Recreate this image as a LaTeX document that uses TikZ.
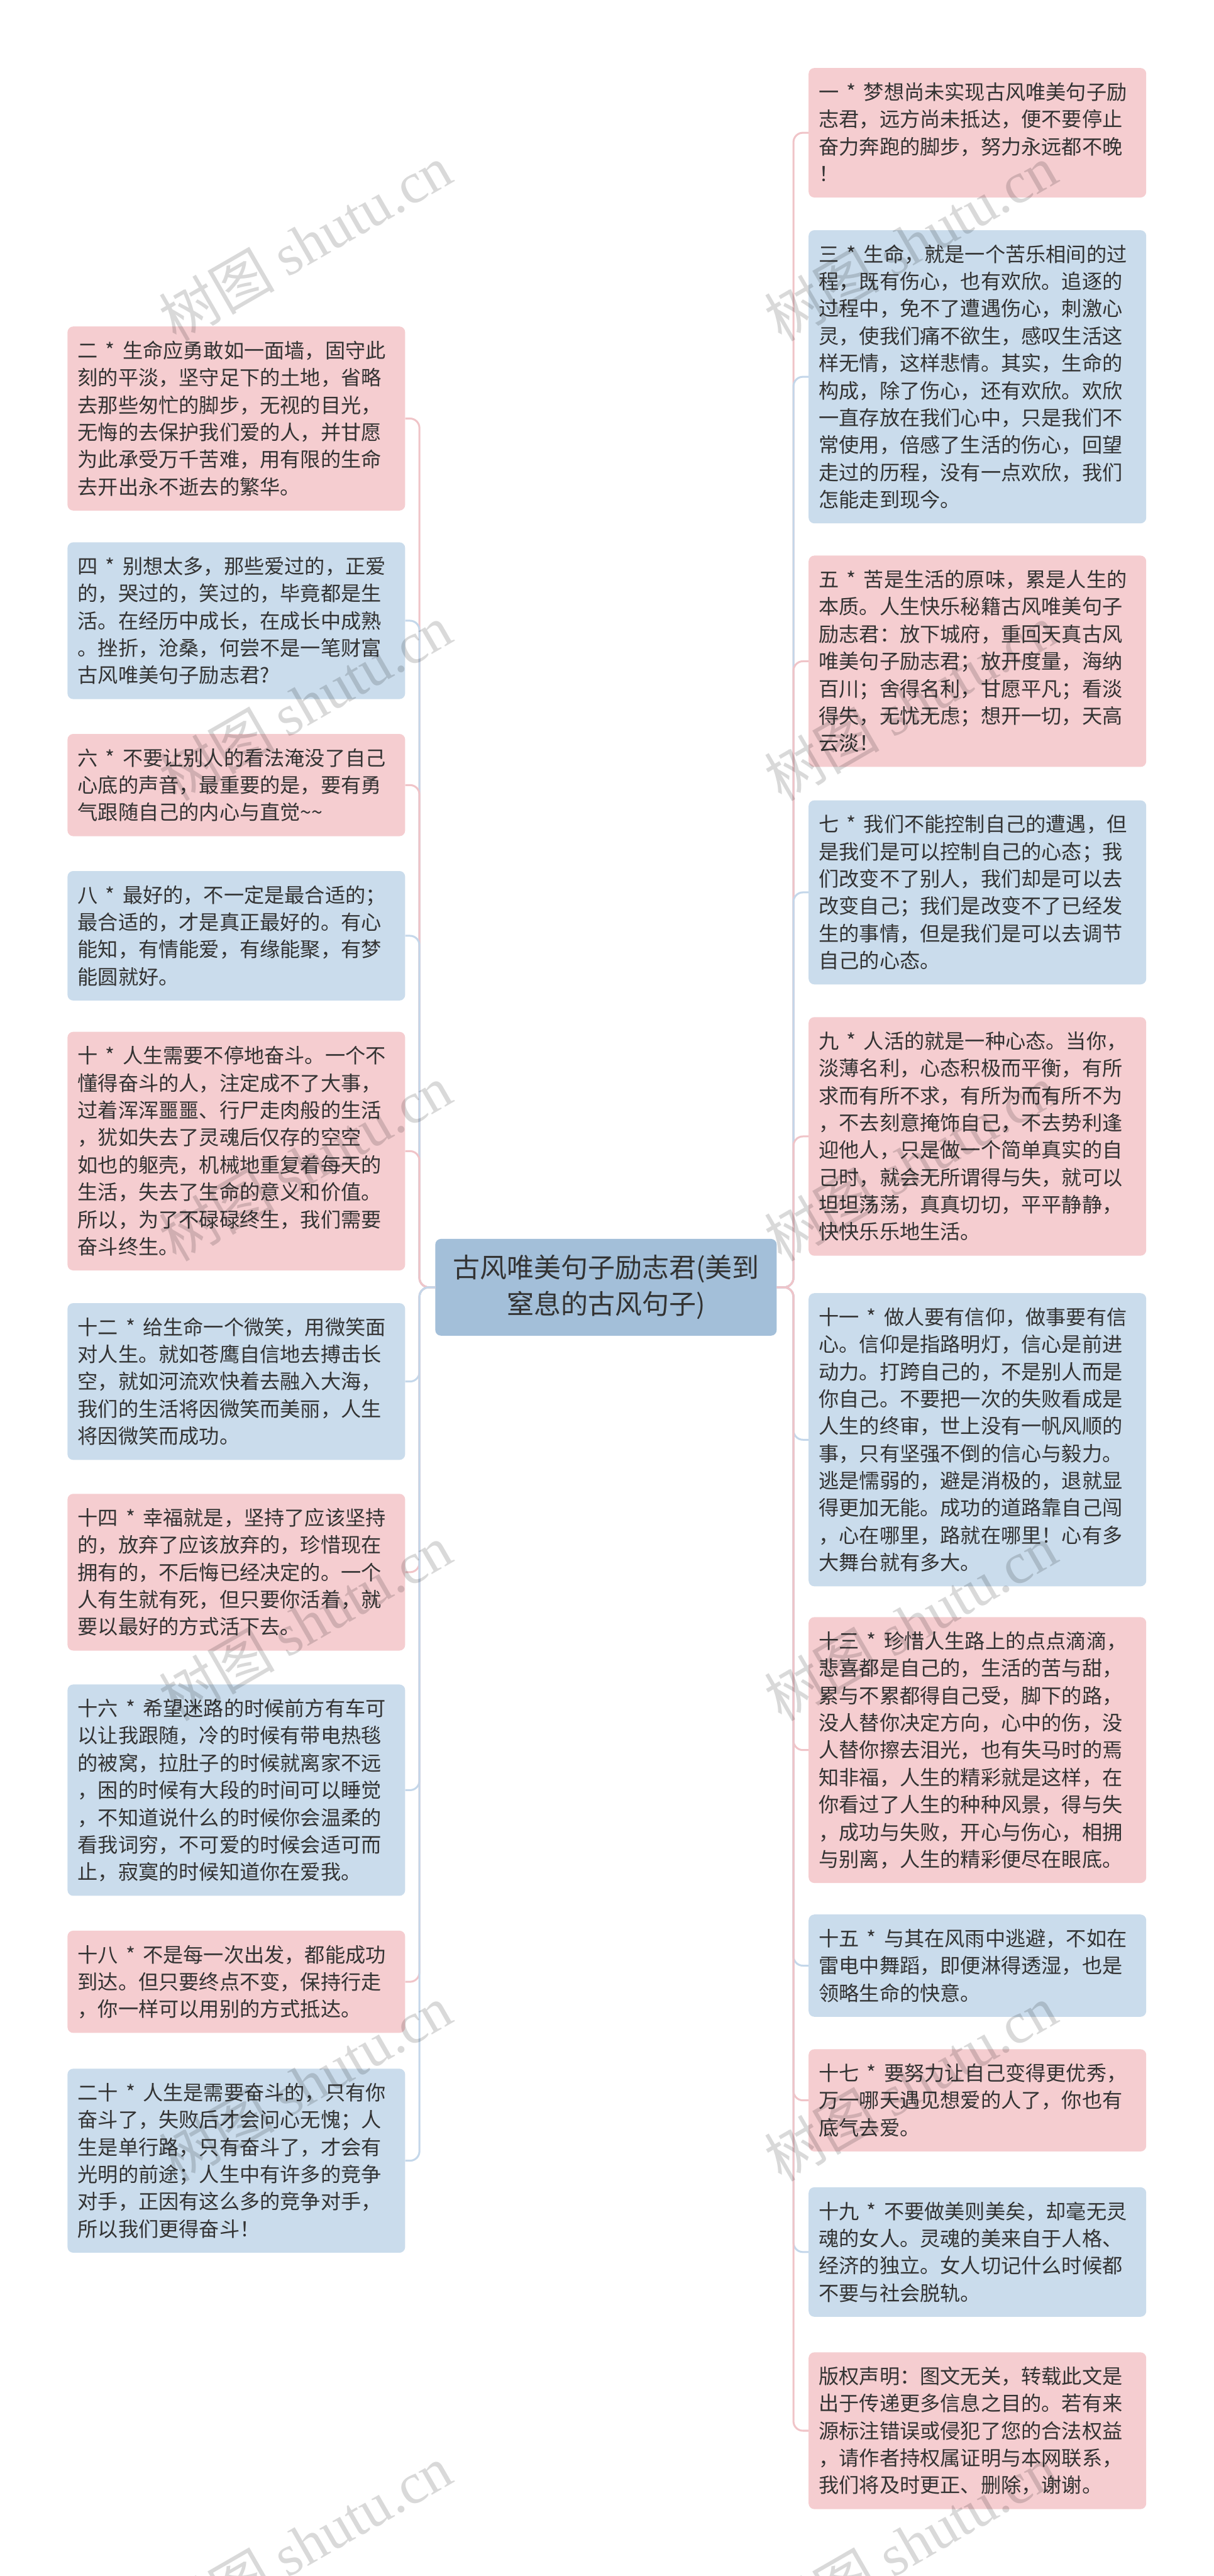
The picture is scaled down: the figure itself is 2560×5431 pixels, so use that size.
\documentclass[tikz,border=0pt]{standalone}
\usepackage{fontspec}
\setmainfont{Noto Sans CJK SC}
\newfontfamily\wmfont{Liberation Serif}
\definecolor{pinkfill}{HTML}{F5CDD0}
\definecolor{bluefill}{HTML}{CADCEC}
\definecolor{rootfill}{HTML}{A3BFD9}
\definecolor{pinkline}{HTML}{F0C4C8}
\definecolor{blueline}{HTML}{C4D7EA}
\definecolor{txt}{HTML}{333333}
\newcommand\sx{\makebox[1.22em]{*}}
\newcommand\mystrut{\rule[-6.26pt]{0pt}{28.75pt}}
\tikzset{
  leaf/.style={draw=none, rounded corners=6pt, text width=334.5pt, inner xsep=10.75pt, inner ysep=10.75pt,
    align=left, anchor=north west, text=txt, font=\fontsize{21.35pt}{28.75pt}\selectfont,
    execute at begin node=\mystrut, execute at end node=\mystrut},
  pinkleaf/.style={leaf, fill=pinkfill},
  blueleaf/.style={leaf, fill=bluefill},
  rootnode/.style={fill=rootfill, rounded corners=6pt, minimum width=360pt, minimum height=102pt,
    text width=340pt, inner xsep=10pt, inner ysep=0pt, align=center, text=txt,
    font=\fontsize{28.5pt}{38.5pt}\selectfont},
  conn/.style={line width=2pt, rounded corners=10pt},
  pconn/.style={conn, draw=pinkline},
  bconn/.style={conn, draw=blueline},
  wm/.style={text=black, text opacity=0.15, rotate=30, font=\fontsize{61pt}{61pt}\selectfont, inner sep=0pt}
}
\begin{document}
\begin{tikzpicture}[x=0.5pt, y=-0.5pt]
\fill[white] (0,0) rectangle (2560,5431);
\useasboundingbox (0,0) rectangle (2560,5431);

\node[rootnode] (root) at (1278,2714) {古风唯美句子励志君(美到\\窒息的古风句子)};

% right column
\node[pinkleaf] (R1) at (1705,143) {一\sx 梦想尚未实现古风唯美句子励\\志君，远方尚未抵达，便不要停止\\奋力奔跑的脚步，努力永远都不晚\\！};
\node[blueleaf] (R2) at (1705,485) {三\sx 生命，就是一个苦乐相间的过\\程，既有伤心，也有欢欣。追逐的\\过程中，免不了遭遇伤心，刺激心\\灵，使我们痛不欲生，感叹生活这\\样无情，这样悲情。其实，生命的\\构成，除了伤心，还有欢欣。欢欣\\一直存放在我们心中，只是我们不\\常使用，倍感了生活的伤心，回望\\走过的历程，没有一点欢欣，我们\\怎能走到现今。};
\node[pinkleaf] (R3) at (1705,1171) {五\sx 苦是生活的原味，累是人生的\\本质。人生快乐秘籍古风唯美句子\\励志君：放下城府，重回天真古风\\唯美句子励志君；放开度量，海纳\\百川；舍得名利，甘愿平凡；看淡\\得失，无忧无虑；想开一切，天高\\云淡！};
\node[blueleaf] (R4) at (1705,1687) {七\sx 我们不能控制自己的遭遇，但\\是我们是可以控制自己的心态；我\\们改变不了别人，我们却是可以去\\改变自己；我们是改变不了已经发\\生的事情，但是我们是可以去调节\\自己的心态。};
\node[pinkleaf] (R5) at (1705,2144) {九\sx 人活的就是一种心态。当你，\\淡薄名利，心态积极而平衡，有所\\求而有所不求，有所为而有所不为\\，不去刻意掩饰自己，不去势利逢\\迎他人，只是做一个简单真实的自\\己时，就会无所谓得与失，就可以\\坦坦荡荡，真真切切，平平静静，\\快快乐乐地生活。};
\node[blueleaf] (R6) at (1705,2726) {十一\sx 做人要有信仰，做事要有信\\心。信仰是指路明灯，信心是前进\\动力。打跨自己的，不是别人而是\\你自己。不要把一次的失败看成是\\人生的终审，世上没有一帆风顺的\\事，只有坚强不倒的信心与毅力。\\逃是懦弱的，避是消极的，退就显\\得更加无能。成功的道路靠自己闯\\，心在哪里，路就在哪里！心有多\\大舞台就有多大。};
\node[pinkleaf] (R7) at (1705,3409) {十三\sx 珍惜人生路上的点点滴滴，\\悲喜都是自己的，生活的苦与甜，\\累与不累都得自己受，脚下的路，\\没人替你决定方向，心中的伤，没\\人替你擦去泪光，也有失马时的焉\\知非福，人生的精彩就是这样，在\\你看过了人生的种种风景，得与失\\，成功与失败，开心与伤心，相拥\\与别离，人生的精彩便尽在眼底。};
\node[blueleaf] (R8) at (1705,4036) {十五\sx 与其在风雨中逃避，不如在\\雷电中舞蹈，即便淋得透湿，也是\\领略生命的快意。};
\node[pinkleaf] (R9) at (1705,4320) {十七\sx 要努力让自己变得更优秀，\\万一哪天遇见想爱的人了，你也有\\底气去爱。};
\node[blueleaf] (R10) at (1705,4611) {十九\sx 不要做美则美矣，却毫无灵\\魂的女人。灵魂的美来自于人格、\\经济的独立。女人切记什么时候都\\不要与社会脱轨。};
\node[pinkleaf] (R11) at (1705,4959) {版权声明：图文无关，转载此文是\\出于传递更多信息之目的。若有来\\源标注错误或侵犯了您的合法权益\\，请作者持权属证明与本网联系，\\我们将及时更正、删除，谢谢。};

% left column
\node[pinkleaf] (L1) at (142,688) {二\sx 生命应勇敢如一面墙，固守此\\刻的平淡，坚守足下的土地，省略\\去那些匆忙的脚步，无视的目光，\\无悔的去保护我们爱的人，并甘愿\\为此承受万千苦难，用有限的生命\\去开出永不逝去的繁华。};
\node[blueleaf] (L2) at (142,1143) {四\sx 别想太多，那些爱过的，正爱\\的，哭过的，笑过的，毕竟都是生\\活。在经历中成长，在成长中成熟\\。挫折，沧桑，何尝不是一笔财富\\古风唯美句子励志君?};
\node[pinkleaf] (L3) at (142,1547) {六\sx 不要让别人的看法淹没了自己\\心底的声音，最重要的是，要有勇\\气跟随自己的内心与直觉\textasciitilde\textasciitilde};
\node[blueleaf] (L4) at (142,1836) {八\sx 最好的，不一定是最合适的；\\最合适的，才是真正最好的。有心\\能知，有情能爱，有缘能聚，有梦\\能圆就好。};
\node[pinkleaf] (L5) at (142,2175) {十\sx 人生需要不停地奋斗。一个不\\懂得奋斗的人，注定成不了大事，\\过着浑浑噩噩、行尸走肉般的生活\\，犹如失去了灵魂后仅存的空空\\如也的躯壳，机械地重复着每天的\\生活，失去了生命的意义和价值。\\所以，为了不碌碌终生，我们需要\\奋斗终生。};
\node[blueleaf] (L6) at (142,2747) {十二\sx 给生命一个微笑，用微笑面\\对人生。就如苍鹰自信地去搏击长\\空，就如河流欢快着去融入大海，\\我们的生活将因微笑而美丽，人生\\将因微笑而成功。};
\node[pinkleaf] (L7) at (142,3149) {十四\sx 幸福就是，坚持了应该坚持\\的，放弃了应该放弃的，珍惜现在\\拥有的，不后悔已经决定的。一个\\人有生就有死，但只要你活着，就\\要以最好的方式活下去。};
\node[blueleaf] (L8) at (142,3551) {十六\sx 希望迷路的时候前方有车可\\以让我跟随，冷的时候有带电热毯\\的被窝，拉肚子的时候就离家不远\\，困的时候有大段的时间可以睡觉\\，不知道说什么的时候你会温柔的\\看我词穷，不可爱的时候会适可而\\止，寂寞的时候知道你在爱我。};
\node[pinkleaf] (L9) at (142,4070) {十八\sx 不是每一次出发，都能成功\\到达。但只要终点不变，保持行走\\，你一样可以用别的方式抵达。};
\node[blueleaf] (L10) at (142,4361) {二十\sx 人生是需要奋斗的，只有你\\奋斗了，失败后才会问心无愧；人\\生是单行路，只有奋斗了，才会有\\光明的前途；人生中有许多的竞争\\对手，正因有这么多的竞争对手，\\所以我们更得奋斗！};

% connectors
\foreach \n/\s in {L1/pconn, L2/bconn, L3/pconn, L4/bconn, L5/pconn, L6/bconn, L7/pconn, L8/bconn, L9/pconn, L10/bconn}
  \draw[\s] (root.west) -- ++(-33,0) |- (\n.east);
\foreach \n/\s in {R1/pconn, R2/bconn, R3/pconn, R4/bconn, R5/pconn, R6/bconn, R7/pconn, R8/bconn, R9/pconn, R10/bconn, R11/pconn}
  \draw[\s] (root.east) -- ++(35,0) |- (\n.west);

% watermarks
\begin{scope}
\clip (0,0) rectangle (2560,5431);
\foreach \yy in {511,1481,2451,3421,4391,5361} {
  \node[wm] (wmL\yy) at (644,\yy) {树图 {\wmfont shutu.cn}};
  \node[wm] (wmR\yy) at (1920,\yy) {树图 {\wmfont shutu.cn}};
}
\end{scope}
\end{tikzpicture}
\end{document}
